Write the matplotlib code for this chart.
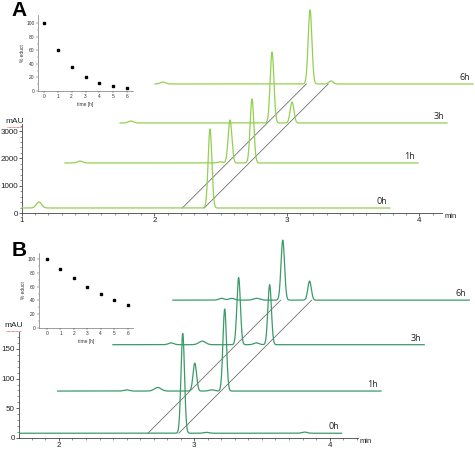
import numpy as np
import matplotlib
matplotlib.use("Agg")
import matplotlib.pyplot as plt
from matplotlib.lines import Line2D
from matplotlib.ticker import FixedLocator

plt.rcParams['font.family'] = ['Liberation Sans', 'DejaVu Sans']

# ---- panel A: chromatograms (time in min, signal in mAU) ----
a_labels = ["0h", "1h", "3h", "6h"]
a_shift = [0.0, 0.34, 0.642, 0.936]        # horizontal stacking offset, min
a_base = [183, 1832, 3297, 4725]           # baseline level, mAU
a_start = [1.0, 0.985, 1.098, 1.068]
a_end = [3.777, 3.649, 3.566, 3.468]
# peaks: (retention time, height, width)
a_peaks = [
    [(1.128, 220, 0.02), (2.419, 2894, 0.014)],
    [(1.098, 70, 0.02), (2.155, 40, 0.02), (2.230, 1575, 0.014), (2.396, 2344, 0.014)],
    [(1.181, 70, 0.02), (2.245, 2600, 0.014), (2.396, 770, 0.014)],
    [(1.128, 70, 0.02), (2.238, 2710, 0.014), (2.396, 110, 0.016)],
]
a_guides = [2.21, 2.375]

# ---- panel B ----
b_labels = ["0h", "1h", "3h", "6h"]
b_shift = [0.0, 0.31, 0.649, 0.982]
b_base = [8, 79, 157, 232]
b_start = [1.712, 1.68, 1.75, 1.86]
b_end = [4.089, 4.07, 4.05, 4.05]
b_peaks = [
    [(2.915, 168, 0.013), (3.09, 1.5, 0.02), (3.815, 2, 0.02)],
    [(2.19, 2, 0.02), (2.42, 6, 0.025), (2.694, 47, 0.013), (2.82, 2, 0.02), (2.915, 138, 0.013)],
    [(2.18, 3, 0.02), (2.41, 6, 0.025), (2.679, 113, 0.013), (2.81, 3, 0.02), (2.908, 101, 0.013)],
    [(2.22, 3, 0.02), (2.295, 3, 0.02), (2.48, 3, 0.025), (2.672, 101, 0.013), (2.87, 32, 0.013)],
]
b_guides = [2.657, 2.886]

# ---- insets: % educt vs time ----
hours = [0, 1, 2, 3, 4, 5, 6]
a_educt = [100, 60, 36, 21, 12, 7, 4]
b_educt = [100, 86, 73, 60, 50, 41, 33]

W, H = 475, 450
fig = plt.figure(figsize=(4.75, 4.5), dpi=100)


def px_box(left, top, right, bottom):
    return [left / W, 1 - bottom / H, (right - left) / W, (bottom - top) / H]


def chromatogram(ax, labels, shift, base, start, end, peaks, guides, color):
    for lab, dx, b0, t0, t1, pk in zip(labels, shift, base, start, end, peaks):
        t = np.linspace(t0, t1, 2000)
        y = np.full_like(t, float(b0))
        for c, h, w in pk:
            y += h * np.exp(-0.5 * ((t - c) / w) ** 2)
        ax.plot(t + dx, y, color=color, lw=0.9, clip_on=False, zorder=3)
        ax.annotate(lab, (t1 + dx, b0), xytext=(-2, 1.5), textcoords='offset points',
                    ha='right', va='bottom', fontsize=6.5, color='#222222',
                    family=['Open Sans', 'DejaVu Sans'], annotation_clip=False)
    for g in guides:
        ax.plot([g, g + shift[-1]], [base[0], base[-1]], color='#707070', lw=0.6,
                clip_on=False, zorder=2)


def style_main(ax, xmaj, ymaj, xmin_step, ymin_step, ytop):
    for s in ['top', 'right']:
        ax.spines[s].set_visible(False)
    for s in ['left', 'bottom']:
        ax.spines[s].set_color('#444444')
        ax.spines[s].set_linewidth(0.6)
    ax.spines['left'].set_bounds(0, ytop)
    x0, x1 = ax.get_xlim()
    ax.set_xticks(xmaj)
    ax.set_yticks(ymaj)
    ax.xaxis.set_minor_locator(FixedLocator(np.arange(np.ceil(x0 * 10) / 10, x1, xmin_step)))
    ax.yaxis.set_minor_locator(FixedLocator(np.arange(0, ytop, ymin_step)))
    ax.tick_params(which='major', length=2, width=0.5, pad=1, labelsize=5.8, colors='#222222')
    ax.tick_params(which='minor', length=1.3, width=0.4, colors='#444444')
    ax.text(1.005, 0, 'min', transform=ax.transAxes, ha='left', va='top', fontsize=5.5,
            color='#222222')


def inset(ax, values, xlim, ylim):
    ax.plot(hours, values, 's', color='black', ms=1.6)
    ax.set_xlim(*xlim)
    ax.set_ylim(*ylim)
    for s in ['top', 'right']:
        ax.spines[s].set_visible(False)
    for s in ['left', 'bottom']:
        ax.spines[s].set_linewidth(0.4)
        ax.spines[s].set_color('#555555')
    ax.set_xticks(hours)
    ax.set_yticks([0, 20, 40, 60, 80, 100])
    ax.yaxis.set_minor_locator(FixedLocator(np.arange(10, 101, 20)))
    ax.tick_params(which='major', length=1.5, width=0.3, pad=1, labelsize=3.5, colors='#333333')
    ax.tick_params(which='minor', length=0.8, width=0.3, colors='#555555')
    ax.set_xlabel('time [h]', fontsize=3.5, labelpad=1.5, color='#333333')
    ax.set_ylabel('% educt', fontsize=3.5, labelpad=1, color='#333333')
    ax.patch.set_alpha(0)


def mau_label(x0, x1, y):
    fig.text((x0 + x1) / 2 / W, 1 - y / H, 'mAU', ha='center', va='bottom', fontsize=6,
             color='#222222')
    fig.add_artist(Line2D([x0 / W, x1 / W], [1 - (y + 1.5) / H] * 2, color='#e05050',
                          lw=0.6, ls=(0, (1, 0.6))))


# panel A
axA = fig.add_axes(px_box(22, 0, 442, 213))
axA.set_xlim(1.0, 4.17)
axA.set_ylim(0, 7800)
chromatogram(axA, a_labels, a_shift, a_base, a_start, a_end, a_peaks, a_guides, '#92d050')
style_main(axA, [1, 2, 3, 4], [0, 1000, 2000, 3000], 0.1, 200, 3250)
mau_label(7, 22, 125)

# panel B
axB = fig.add_axes(px_box(19, 230, 358, 438))
axB.set_xlim(1.705, 4.21)
axB.set_ylim(0, 350)
chromatogram(axB, b_labels, b_shift, b_base, b_start, b_end, b_peaks, b_guides, '#3a9a6a')
style_main(axB, [2, 3, 4], [0, 50, 100, 150], 0.1, 10, 178)
mau_label(6, 21, 329)

# insets
inA = fig.add_axes(px_box(38, 15, 133, 91))
inset(inA, a_educt, (-0.43, 6.43), (0, 112))
inB = fig.add_axes(px_box(39, 253, 133, 328))
inset(inB, b_educt, (-0.6, 6.4), (0, 109))

fig.text(19.5 / W, 1 - 11 / H, 'A', ha='center', va='center', fontsize=15, weight='bold')
fig.text(19 / W, 1 - 250 / H, 'B', ha='center', va='center', fontsize=15, weight='bold')

fig.savefig('out.png', dpi=100)
